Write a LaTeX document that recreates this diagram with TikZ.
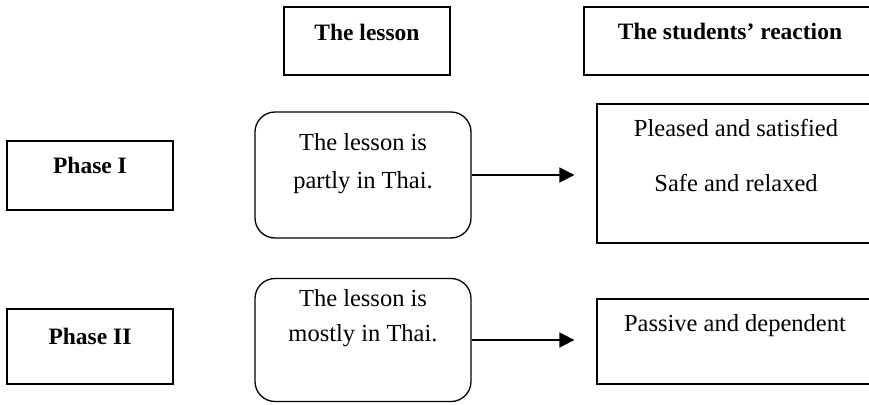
\documentclass[tikz,border=0pt]{standalone}
\usepackage{fontspec}
\setmainfont{Liberation Serif}
\usetikzlibrary{arrows.meta}
\begin{document}
\begin{tikzpicture}[x=1pt,y=-1pt,
  box/.style={draw,line width=1.3pt,rectangle,inner sep=0pt},
  rbox/.style={draw,line width=1.3pt,rectangle,rounded corners=20pt,inner sep=0pt},
  txt/.style={anchor=base,inner sep=0pt,font=\fontsize{24.5}{29}\selectfont},
  btxt/.style={anchor=base,inner sep=0pt,font=\fontsize{23.5}{28}\selectfont\bfseries},
  arr/.style={line width=1.6pt,-{Triangle[length=15pt,width=15pt]},shorten >=22pt}]
\useasboundingbox (0,0) rectangle (869,404);
% headers
\node[box,minimum width=166pt,minimum height=68pt] (hl) at (367,41) {};
\node[box,minimum width=292pt,minimum height=68pt] (hs) at (730,41) {};
\node[btxt] (hlt) at (367,41) {The lesson};
\node[btxt] (hst) at (730,40) {The students’ reaction};
% phases
\node[box,minimum width=166pt,minimum height=69pt] (p1) at (90,175.5) {};
\node[box,minimum width=166pt,minimum height=75pt] (p2) at (90,346.5) {};
\node[btxt] (p1t) at (90,173) {Phase I};
\node[btxt] (p2t) at (90,344) {Phase II};
% lesson boxes
\node[rbox,minimum width=216pt,minimum height=126pt] (r1) at (363,175) {};
\node[rbox,minimum width=216pt,minimum height=123pt] (r2) at (363,340) {};
\node[txt] (r1a) at (363,150) {The lesson is};
\node[txt] (r1b) at (363,188) {partly in Thai.};
\node[txt] (r2a) at (363,306) {The lesson is};
\node[txt] (r2b) at (363,341) {mostly in Thai.};
% reaction boxes
\node[box,minimum width=279pt,minimum height=139pt] (s1) at (736.5,173.5) {};
\node[box,minimum width=279pt,minimum height=85pt] (s2) at (736.5,341.5) {};
\node[txt] (s1a) at (736,136) {Pleased and satisfied};
\node[txt] (s1b) at (736,191) {Safe and relaxed};
\node[txt] (s2a) at (735,331) {Passive and dependent};
% arrows
\draw[arr] (r1.east) -- (s1.west |- r1.east);
\draw[arr] (r2.east) -- (s2.west |- r2.east);
\end{tikzpicture}
\end{document}
